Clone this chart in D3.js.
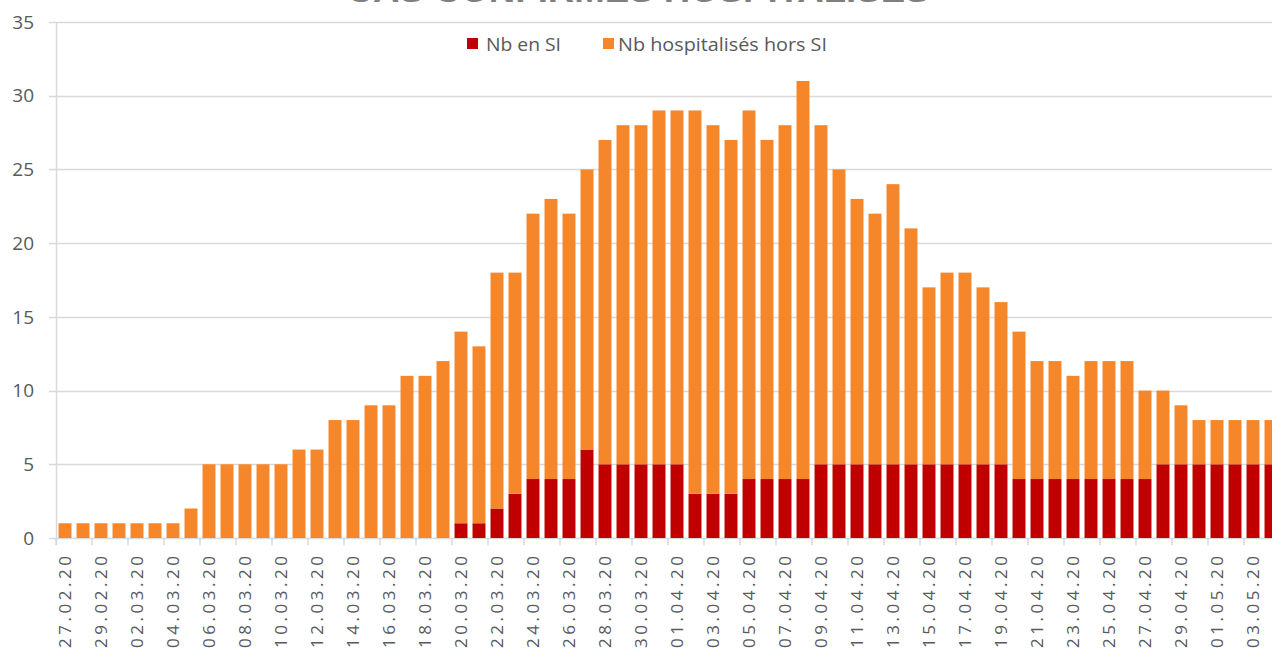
<!DOCTYPE html>
<html>
<head>
<meta charset="utf-8">
<script src="https://cdn.jsdelivr.net/npm/d3@7"></script>
<style>
  html, body { margin: 0; padding: 0; background: #fff; }
  svg { display: block; }
</style>
</head>
<body>
<svg id="chart" width="1272" height="654"></svg>
<script>
const dates = [
  "27.02.20","28.02.20","29.02.20","01.03.20","02.03.20","03.03.20","04.03.20","05.03.20",
  "06.03.20","07.03.20","08.03.20","09.03.20","10.03.20","11.03.20","12.03.20","13.03.20",
  "14.03.20","15.03.20","16.03.20","17.03.20","18.03.20","19.03.20","20.03.20","21.03.20",
  "22.03.20","23.03.20","24.03.20","25.03.20","26.03.20","27.03.20","28.03.20","29.03.20",
  "30.03.20","31.03.20","01.04.20","02.04.20","03.04.20","04.04.20","05.04.20","06.04.20",
  "07.04.20","08.04.20","09.04.20","10.04.20","11.04.20","12.04.20","13.04.20","14.04.20",
  "15.04.20","16.04.20","17.04.20","18.04.20","19.04.20","20.04.20","21.04.20","22.04.20",
  "23.04.20","24.04.20","25.04.20","26.04.20","27.04.20","28.04.20","29.04.20","30.04.20",
  "01.05.20","02.05.20","03.05.20","04.05.20"
];
const nbSI = [
  0,0,0,0,0,0,0,0,
  0,0,0,0,0,0,0,0,
  0,0,0,0,0,0,1,1,
  2,3,4,4,4,6,5,5,
  5,5,5,3,3,3,4,4,
  4,4,5,5,5,5,5,5,
  5,5,5,5,5,4,4,4,
  4,4,4,4,4,5,5,5,
  5,5,5,5
];
const nbHorsSI = [
  1,1,1,1,1,1,1,2,
  5,5,5,5,5,6,6,8,
  8,9,9,11,11,12,13,12,
  16,15,18,19,18,19,22,23,
  23,24,24,26,25,24,25,23,
  24,27,23,20,18,17,19,16,
  12,13,13,12,11,10,8,8,
  7,8,8,8,6,5,4,3,
  3,3,3,3
];
const yTicks = [0,5,10,15,20,25,30,35];
const seriesNames = ["Nb en SI", "Nb hospitalisés hors SI"];
const seriesColors = ["#C00000", "#F5872A"];
const titleText = "CAS CONFIRMÉS HOSPITALISÉS";

const svg = d3.select("#chart");
const x0 = 56, step = 18;
const yTop = 22, yBottom = 538;

const x = d3.scaleBand()
  .domain(dates)
  .range([x0, x0 + step * dates.length])
  .paddingInner(0.28)
  .paddingOuter(0.14);

const y = d3.scaleLinear().domain([0, 35]).range([yBottom, yTop]);

const font = "'Open Sans', 'Liberation Sans', sans-serif";
const textColor = "#595959";
const gridColor = "#d9d9d9";

// title (cut off at the top edge, as in the reference)
svg.append("text")
  .attr("x", 638).attr("y", 2)
  .attr("text-anchor", "middle")
  .attr("font-family", "'Liberation Sans', sans-serif")
  .attr("font-weight", "bold")
  .attr("font-size", 34)
  .attr("fill", "#7f7f7f")
  .attr("textLength", 583)
  .attr("lengthAdjust", "spacingAndGlyphs")
  .text(titleText);

// gridlines
svg.append("g")
  .selectAll("line")
  .data(yTicks)
  .join("line")
  .attr("x1", 49).attr("x2", 1272)
  .attr("y1", d => Math.round(y(d)) + 0.5)
  .attr("y2", d => Math.round(y(d)) + 0.5)
  .attr("stroke", gridColor)
  .attr("stroke-width", 1.5);

// y tick labels
svg.append("g")
  .selectAll("text")
  .data(yTicks)
  .join("text")
  .attr("x", 34)
  .attr("y", d => y(d))
  .attr("dy", "0.35em")
  .attr("text-anchor", "end")
  .attr("font-family", font)
  .attr("font-size", 19)
  .attr("fill", textColor)
  .text(d => d);

// stacked bars
const rows = dates.map((d, i) => ({ date: d, si: nbSI[i], hors: nbHorsSI[i] }));
const stack = d3.stack().keys(["si", "hors"]);
const layers = stack(rows);

svg.append("g")
  .selectAll("g")
  .data(layers)
  .join("g")
  .attr("fill", (d, i) => seriesColors[i])
  .selectAll("rect")
  .data(d => d)
  .join("rect")
  .attr("x", d => x(d.data.date))
  .attr("width", x.bandwidth())
  .attr("y", d => y(d[1]))
  .attr("height", d => y(d[0]) - y(d[1]));

// y axis line
svg.append("line")
  .attr("x1", x0 + 0.5).attr("x2", x0 + 0.5)
  .attr("y1", yTop).attr("y2", yBottom + 7)
  .attr("stroke", gridColor)
  .attr("stroke-width", 1.5);

// x axis
const labelDates = dates.filter((d, i) => i % 2 === 0);
const xAxis = d3.axisBottom(x).tickValues(labelDates).tickSize(0).tickPadding(0);
const gx = svg.append("g")
  .attr("transform", `translate(0,${yBottom})`)
  .call(xAxis);
gx.select(".domain").remove();
gx.selectAll(".tick").append("line")
  .attr("x1", -step / 2).attr("x2", -step / 2)
  .attr("y1", 0).attr("y2", 7)
  .attr("stroke", gridColor)
  .attr("stroke-width", 1.5);
gx.selectAll(".tick text")
  .attr("transform", "rotate(-90)")
  .attr("x", -18)
  .attr("y", 0)
  .attr("dy", "0.36em")
  .attr("text-anchor", "end")
  .attr("font-family", font)
  .attr("font-size", 17)
  .attr("fill", textColor)
  .attr("textLength", 92)
  .attr("lengthAdjust", "spacing");

// legend
const legendItems = [
  { name: seriesNames[0], color: seriesColors[0], sx: 467, tx: 486, w: 75 },
  { name: seriesNames[1], color: seriesColors[1], sx: 603, tx: 618, w: 209 }
];
const lg = svg.append("g");
lg.selectAll("rect")
  .data(legendItems)
  .join("rect")
  .attr("x", d => d.sx).attr("y", 38)
  .attr("width", 11).attr("height", 11)
  .attr("fill", d => d.color);
lg.selectAll("text")
  .data(legendItems)
  .join("text")
  .attr("x", d => d.tx).attr("y", 44)
  .attr("dy", "0.35em")
  .attr("font-family", font)
  .attr("font-size", 19)
  .attr("fill", textColor)
  .attr("textLength", d => d.w)
  .attr("lengthAdjust", "spacingAndGlyphs")
  .text(d => d.name);
</script>
</body>
</html>
